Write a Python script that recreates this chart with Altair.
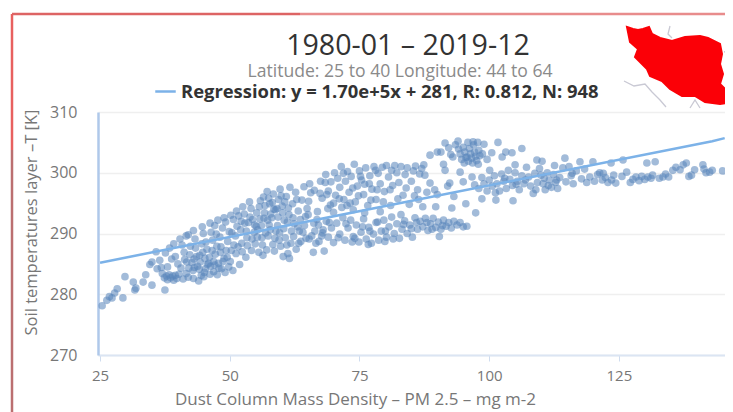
import altair as alt
import pandas as pd

FONT = "Open Sans"
title_text = "1980-01 – 2019-12"
subtitle_text = "Latitude: 25 to 40 Longitude: 44 to 64"
legend_text = "Regression: y = 1.70e+5x + 281, R: 0.812, N: 948"
x_title = "Dust Column Mass Density – PM 2.5 – mg m-2"
y_title = "Soil temperatures layer –T [K]"
x_ticks = [25, 50, 75, 100, 125]
y_ticks = [270, 280, 290, 300, 310]

tail = [(25.4,278.1),(26.3,279),(26.8,279.6),(27.3,279.4),(27.8,280.2),(28.3,280.9),(29.4,279.4),(29.8,282.9),
        (31.4,282),(31.7,280.7),(31.9,281),(33.3,282),(33.8,283.2),(35,281.5),(37.5,280.7)]
c1 = [(34.6,284.9),(35,285.3),(36,284.2),(36.5,285.6),(37,283.4),(37.4,282.7),(37.8,283),(38,282.4),(38.3,283.2),
      (38.6,282.7),(39,283),(39.2,282.3),(39.5,283.1),(39.8,282.6),(40.2,283.3),(38,284.5),(38.8,285.8),(39.5,286.2),
      (37.6,286.8),(40,285),(40.6,284.3),(41,282.5),(41.6,283.4),(42,282.8),(43,282.6),(44,282.2),(45,282.9),(35.8,287),
      (38.4,287.6),(40.8,288.1),(36.8,284.4),(41.3,285.7)]
c2 = [(41.2,286.9),(44.1,284.1),(42.7,285.2),(46.3,284.6),(43.4,287.6),(45.2,285.9),(47.8,285.1),(42.1,284.3),(44.8,286.9),
      (46.9,283.7),(43.1,285.8),(45.7,284.9),(47.2,286.6),(44.3,285.3),(48.4,284.2),(42.4,287.9),(46.1,286.1),(43.8,284.6),
      (45.1,283.6),(47.5,287.9),(48.9,285.9),(44.6,288.3),(46.7,288.9),(49.3,287.2),(43.3,289.1),(45.6,287.4),(48.1,289.4),
      (50.1,285.4),(46.4,290.2),(47.9,284.3),(49.6,288.7),(44.9,290),(51.2,286.7),(48.6,290.9),(50.4,290.1),(47.1,291.3),
      (52.3,288.4),(49.2,291.9),(51.4,291.2),(50.8,288.1),(53.1,286.1),(52.1,290.6),(50.6,283.9),(53.6,291.8),(51.7,292.9),
      (49.8,284.5),(48.2,286.9),(46.9,285.4),(45.4,288.6),(47.4,289.9),(53.3,289.3),(51.9,284.9),(52.8,293.2),(54.2,287.2)]
c3 = [(54.7,290.2),(56.3,288.1),(55.2,293.4),(57.6,291.4),(54.1,294.1),(58.7,289.2),(56.8,294.6),(55.6,286.9),(59.3,292.7),
      (57.1,287.3),(60.4,290.8),(58.2,295.1),(56.1,291.3),(61.3,294.2),(59.8,287.9),(57.9,293.2),(60.9,296.1),(62.4,291.6),
      (58.9,290.4),(55.3,289.4),(61.8,288.4),(59.4,295.6),(63.2,293.7),(56.6,292.5),(60.2,293.4),(62.7,296.8),(57.4,289.6),
      (64.1,290.2),(58.4,296.5),(61.1,291.9),(63.7,288.7),(59.1,294.1),(65.2,295.3),(60.7,289.3),(62.1,294.9),(64.6,292.8),
      (66.3,297.1),(55.9,295.4),(57.2,296.9),(63.1,291.1),(65.8,289.6),(61.6,297.6),(54.4,292.3),(56.4,286.4),(58.6,287.1),
      (60.3,286.2),(61.5,285.9),(64.3,297.7),(66.9,293.6),(67.8,295.8),(63.9,295.5),(59.7,297.3),(62.8,287.4),(67.1,291.4),
      (68.4,298.4),(65.4,298.2),(68.9,294.1),(55.1,291.2),(57.7,294.9),(60.6,295.2),(62.2,292.6),(54.9,288.3),(56.9,290.1),
      (58.1,292.6),(59.5,288.9),(61.2,286.7),(53.8,295.2),(52.5,294.4),(66.1,286.9),(68.2,287.1),(64.9,294.1),(63.4,290.4)]
dense = [(41.7,285.3),(42.9,283.9),(43.6,286.2),(44.5,283.1),(45.9,285.1),(46.6,287.2),(47.6,283.2),(48.7,285.4),(49.1,283.6),(44.2,286.4),
         (42.3,286.5),(43.2,284.4),(45.3,284.2),(46.2,283.3),(47.1,284.8),(48.3,287.8),(49.5,286.1),(50.3,287.2),(51.1,289.6),(52.4,287),
         (53.4,288),(50.7,292.3),(49.9,290.3),(51.6,287.8),(52.9,291.7),(54.3,289.1),(54.8,291.4),(55.4,290.6),(55.8,292.4),(56.2,289.3),
         (56.7,293.4),(57.3,292.2),(57.8,290.6),(58.3,288.2),(58.8,293.9),(59.2,291.3),(59.6,290.1),(60.1,294.5),(60.5,292.2),(61,288.1),
         (61.4,293.1),(61.9,290.4),(62.3,289.5),(62.9,295.6),(63.3,288.4),(63.6,292.3),(64.4,291.3),(64.7,289.2),(65.1,293.1),(65.6,296.7),
         (66.2,291.7),(66.6,288.4),(67.4,296.6),(67.9,290.1),(68.7,296.4),(55.7,294.4),(56.5,296),(57.5,295.8),(58.5,294),(59.9,296.2),
         (53.2,290.4),(53.9,292.7),(52.2,292),(51.3,293.7),(50.2,293),(48.9,292.6),(47.7,292.2),(46.2,291.7),(44.7,291.1),(43,290.5),
         (41.6,289.6),(40.4,289.1),(39.2,288.3),(42,289.8),(69.4,294.7),(71.1,295.7),(72.6,294.6),(74.8,296.2),(77.2,295.5),(79.6,295.2),
         (80.9,297.2),(82.4,295.7),(84,297.5),(85.6,296.2),(71.9,299.9),(73.7,297.5),(75.2,299.4),(76.9,298.2),(78.1,300.4),(81.2,300.4),
         (69.2,291.8),(70.9,289.3),(72.4,291.6),(74.1,289.2),(75.6,291.1),(77,290.4),(78.5,291.9),(80,290.4),(81.5,289.1),(83.5,291.5),
         (85,290.8),(86,291.8),(88,291.8),(89,290.7),(91,291.3),(67.7,289.6),(66.8,292.3),(73.6,288.6),(76.7,288.2),(79.9,288.7),
         (94.1,303.9),(95.2,301.6),(96.9,305.1),(92.2,304.1),(93.5,304.6),(97.9,301.4),(98.7,303.1),(99.6,302.2),
         (110.6,299.1),(111.4,297.9),(109,297.2),(107,298.8),(105.2,298.1),(103,299.1),(101.2,296.7),(113,298.8),(116,299.9),(122,299.9)]
upper = [(69,297),(69.5,298.5),(70,295),(70.4,296.3),(70.8,299.1),(71.2,297.6),(71.6,294.3),(72,295.6),(72.3,298.6),
         (72.7,300.2),(73,296.8),(73.4,299.4),(73.8,293.9),(74.2,295.2),(74.6,297.8),(75,300.3),(75.4,298.8),(75.8,296.4),
         (76.2,300.8),(76.6,294.6),(77,299.5),(77.4,297.3),(77.8,301),(78.2,295.6),(78.6,299.9),(79,298.2),(79.4,300.9),
         (79.8,296.9),(80.2,301.2),(80.6,299.3),(81,294.6),(81.4,297.9),(81.8,301.2),(82.2,300),(82.6,298.4),(83,301),
         (83.4,296.3),(83.8,299.7),(84.2,300.8),(84.6,294.8),(85,298.6),(85.4,300.3),(85.8,301.1),(86.2,297.2),(86.6,299.8),
         (87,300.7),(67.5,298.6),(68.5,299.7),(70.2,300),(71.5,301),(74,301.4),(73.2,295),(76,298.1),(78.4,297.2)]
lower = [(65.3,289.1),(66.4,290.4),(67.2,288.7),(68,290.6),(68.6,292),(69,289.4),(69.6,290.9),(70,288.5),(70.6,291.7),
         (71.2,289.9),(71.8,292.6),(72.2,288.9),(72.8,290.9),(73.3,292.2),(73.8,289.5),(74.4,291.4),(74.9,288.6),(75.3,290.2),
         (75.8,292.4),(76.3,289.1),(76.8,291),(77.3,288.4),(77.7,289.9),(78.2,291.8),(78.7,288.9),(79.2,290.4),(79.7,292.2),
         (80.2,289.4),(80.7,291.1),(81.2,292.7),(81.7,290),(82.2,291.6),(82.7,289.2),(83.2,290.7),(83.7,292.1),(84.2,290),
         (84.7,291.4),(85.2,289.4),(85.7,292.6),(86.2,290.7),(86.7,292),(87.2,291.1),(87.7,292.5),(88.2,290.5),(88.7,291.6),
         (89.2,292.5),(89.7,291),(90.2,291.9),(90.7,290.7),(91.2,292.2),(91.7,291.2),(92.2,291.8),(92.7,290.9),(93.2,292),
         (93.8,291.4),(94.4,291.8),(95,291.1),(95.7,291.2),(76,293.4),(79,293.6),(83,293.1),(70,293.5),(90.4,289.5)]
top = [(88.6,302.9),(90,303.4),(90.7,303.4),(91.5,304.9),(92.6,303),(94,305.2),(94.4,303.1),(94.7,302.2),(95,304.2),
       (95.3,303.4),(95.5,302.5),(95.7,302.6),(95.9,305),(96,301.9),(96.2,304),(96.4,303.1),(96.6,302.4),(96.8,301.6),
       (97,304.6),(97.2,303.4),(97.4,302.7),(97.6,302),(97.8,305),(98,303.7),(98.2,302.8),(99,304.7),(100.5,303.3),
       (101.7,305),(102.5,302.6),(104.4,303.3),(103.2,303.4),(106.3,304),(109.2,302.1),(93,302.6)]
mid = [(87.4,301.3),(87.6,299.6),(88.6,298.3),(89.5,297.2),(91.5,300.4),(91.2,301.4),(92.4,298.3),(92,297.8),(94.4,300.1),
       (95,298.5),(96.7,299.3),(87.2,294.4),(89.7,294.4),(92.8,294.2),(95.5,294.9),(97.4,293.4),(98.6,295.7),(101.3,295.5),
       (104.6,295.4),(100.1,300.4),(105,301.3),(90,296.4),(93.2,296.1),(88,296.8),(86.4,295.6)]
band = [(97.2,298),(98,297.4),(98.6,299.2),(99,298.2),(99.6,297),(100,298.8),(100.6,297.8),(101,299.5),(101.5,298.2),(102,297),
        (102.4,299.8),(102.8,298.6),(103.3,297.4),(103.7,300.4),(104,298.9),(104.5,297.9),(105,300),(105.4,298.6),(105.8,297.2),
        (106.3,299.5),(106.7,298.2),(107.2,300.9),(107.6,299.3),(108,297.8),(108.5,296.6),(108.8,299.9),(109.3,298.4),(109.7,300.7),
        (110,299.6),(110.4,298.2),(110.8,297.2),(111.2,300),(111.6,298.8),(112,297.6),(112.4,299.7),(112.8,298.4),(113.2,297.4),
        (113.6,299.2),(114.2,300.8),(114.6,302.4),(114.8,298.5),(115.4,301),(115.8,299.5),(116.2,298.2),(116.8,300.3),(117.5,301.8),
        (117.8,299),(118.4,300.6),(118.8,298.4),(119.4,299.3),(120,301.8),(120.3,298.6),(120.9,299.7),(121.3,300),(121.8,298.8),
        (122.4,299.2),(122.9,298.4),(123.6,298.8),(124,299.6),(124.4,298.3),(112.6,301.2),(110.2,301.9)]
right = [(125.8,302.1),(125.6,299.4),(126.5,300.1),(127.2,298.4),(127.7,298.9),(128.3,299.3),(128.9,298.7),(129.4,299.4),
         (130,298.9),(130.4,301.6),(130.6,299.3),(131.2,299.1),(131.5,299.6),(132,301.8),(132.8,299.1),(133.5,299.3),(134,299.8),
         (134.6,299.3),(135.4,300.4),(136,300.9),(136.8,300.5),(137.4,301.3),(138,301.6),(138.5,299.4),(139,299.6),(139.6,300.5),
         (141.2,301.3),(141.4,300.6),(141.8,300),(142.5,300.1),(143,300.4),(145,300.3),(123.5,301.6)]

reg_x = [25, 143, 145.4]
reg_y = [285.2, 305.2, 305.7]

iran_outline = [(627,27),(633,29),(638,30),(643,29),(649,27),(652,34),(660,38),(672,41),(685,37),(700,36),(708,38),
                (720,44),(722,54),(720,64),(723,74),(720,84),(730,94),(732,102),(720,104),(705,102),(695,96),(682,96),
                (670,89),(662,81),(650,76),(647,69),(635,57),(638,49),(630,42)]
gray_lines = [[(624,81),(634,86),(645,84),(652,92),(660,100),(666,107)],
              [(670,26),(668,34),(672,38)],[(690,108),(695,100),(700,108)],[(733,50),(724,52)]]

MAP_X, MAP_Y = 680, 65
LEFT, TOP, W, H = 98, 112, 627, 243
TOTAL_W, TOTAL_H = 717, 404


def px(v):
    return v - LEFT


def py(v):
    return v - TOP


def path(coords, close):
    d = " ".join(("M" if i == 0 else "L") + f"{a - MAP_X} {b - MAP_Y}" for i, (a, b) in enumerate(coords))
    return d + (" Z" if close else "")


points = pd.DataFrame(tail + c1 + c2 + dense + c3 + upper + lower + top + mid + band + right, columns=["x", "y"])
reg = pd.DataFrame({"x": reg_x, "y": reg_y, "s": [legend_text] * 3})
one = pd.DataFrame({"a": [0]})

xs = alt.Scale(domain=[24.6, 145.46], nice=False, zero=False)
ys = alt.Scale(domain=[270, 310], nice=False, zero=False)

scatter = alt.Chart(points).mark_circle(size=58, color="#5a86bb", opacity=0.56, clip=True).encode(
    x=alt.X("x:Q", scale=xs, axis=alt.Axis(
        values=x_ticks, title=x_title, grid=False, domainColor="#dbe5f3", domainWidth=2, tickColor="#cfdcef",
        tickSize=6, labelColor="#777777", labelFontSize=15, labelFont=FONT, labelPadding=7,
        titleColor="#777777", titleFontSize=17, titleFont=FONT, titleFontWeight="normal",
        titleX=px(355), titleY=44, titleBaseline="middle")),
    y=alt.Y("y:Q", scale=ys, axis=alt.Axis(
        values=y_ticks, title=y_title, gridColor="#efefef", gridWidth=1.5, tickSize=0, domainColor="#afc8ea", domainWidth=2.5,
        labelColor="#777777", labelFontSize=16, labelFont=FONT, labelPadding=21,
        titleColor="#777777", titleFontSize=16.5, titleFont=FONT, titleFontWeight="normal",
        titleX=px(31), titleY=py(222), titleBaseline="middle")),
)

line = alt.Chart(reg).mark_line(strokeWidth=2.5).encode(
    x=alt.X("x:Q", scale=xs),
    y=alt.Y("y:Q", scale=ys),
    color=alt.Color("s:N", scale=alt.Scale(range=["#7cb2e8"]), legend=alt.Legend(
        orient="none", legendX=px(154), legendY=py(80), title=None, symbolType="stroke", symbolSize=420,
        symbolStrokeWidth=2.5, labelFont=FONT, labelFontSize=18.4, labelFontWeight="bold", labelColor="#333333",
        labelLimit=600, padding=0)),
)


def rule(x, x2, y, y2, color, w):
    return alt.Chart(one).mark_rule(color=color, strokeWidth=w).encode(
        x=alt.value(px(x)), x2=alt.value(px(x2)), y=alt.value(py(y)), y2=alt.value(py(y2)))


frame = [rule(12, 12, 14, 150, "#e8605f", 2.5), rule(12, 12, 150, 412, "#bb6f70", 2.5),
         rule(12, 300, 14, 14, "#dd6464", 2.5), rule(300, 725, 14, 14, "#e88c8c", 2.5)]

subtitle = alt.Chart(one).mark_text(text=subtitle_text, font=FONT, fontSize=17.6, color="#8a8a8a", align="center", baseline="middle").encode(
    x=alt.value(px(400)), y=alt.value(py(72)))
main_title = alt.Chart(one).mark_text(text=title_text, font=FONT, fontSize=28.6, color="#333333", align="center", baseline="middle").encode(
    x=alt.value(px(408)), y=alt.value(py(46)))

shape_map = alt.Chart(one).mark_point(shape=path(iran_outline, True), size=4, filled=True, color="#fb0007", opacity=1, stroke="#fb0007").encode(
    x=alt.value(px(MAP_X)), y=alt.value(py(MAP_Y)))
shape_lines = [alt.Chart(one).mark_point(shape=path(g, False), size=4, filled=False, color="#c9c9d4", opacity=1, strokeWidth=1.3).encode(
    x=alt.value(px(MAP_X)), y=alt.value(py(MAP_Y))) for g in gray_lines]

chart = alt.layer(*frame, scatter, line, main_title, subtitle, *shape_lines, shape_map).resolve_scale(color="independent").properties(
    width=W, height=H,
    padding={"left": LEFT - 8, "top": TOP - 8, "right": 0, "bottom": TOTAL_H - (TOP - 8) - H},
    autosize=alt.AutoSizeParams(type="none"),
    background="white",
).configure_view(stroke=None)

chart.save("out.html", embed_options={"renderer": "svg", "actions": False})
